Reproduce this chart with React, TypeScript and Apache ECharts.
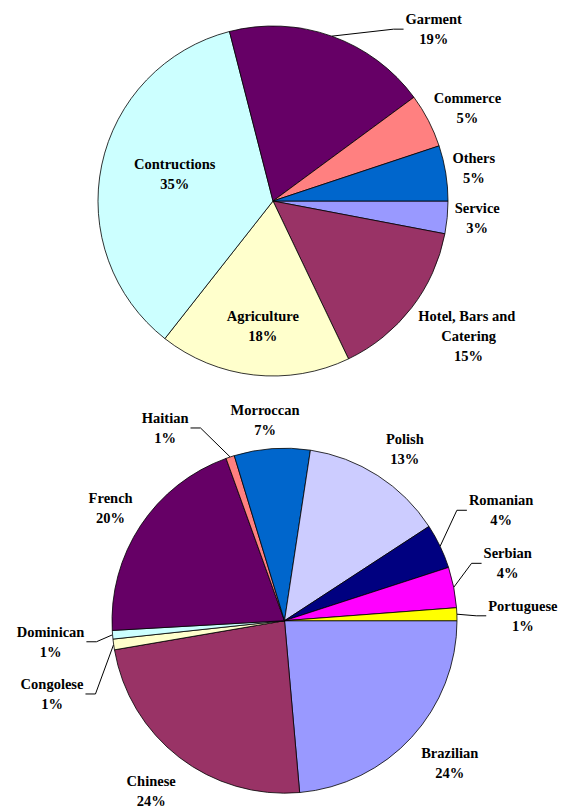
import React, { useEffect, useRef } from 'react';
import * as echarts from 'echarts';

// ---- Data: employment sectors (top pie) ----
const jobCategories = ['Service', 'Hotel, Bars and Catering', 'Agriculture', 'Contructions', 'Garment', 'Commerce', 'Others'];
const jobValues = [3.0, 14.9, 17.7, 35.4, 18.9, 5.0, 5.1];
const jobColors = ['#9999FF', '#993366', '#FFFFCC', '#CCFFFF', '#660066', '#FF8080', '#0066CC'];

// ---- Data: nationalities (bottom pie) ----
const originCategories = ['Brazilian', 'Chinese', 'Congolese', 'Dominican', 'French', 'Haitian', 'Morroccan', 'Polish', 'Romanian', 'Serbian', 'Portuguese'];
const originValues = [23.6, 23.7, 1.0, 0.8, 20.4, 0.8, 7.1, 13.4, 4.2, 3.8, 1.2];
const originColors = ['#9999FF', '#993366', '#FFFFCC', '#CCFFFF', '#660066', '#FF8080', '#0066CC', '#CCCCFF', '#000080', '#FF00FF', '#FFFF00'];

// ---- Label placement (style): offset of label centre from the arc point at the slice mid-angle ----
const jobLabelOffsets = [[30, 1], [57, 28], [9, -49], [73, 9], [102, -7], [39, -13], [28, -5]];
const jobLeader = [false, false, false, false, true, false, false];
const originLabelOffsets = [[38, 26], [-28, 33.5], [-61.6, 49.5], [-62, 7], [-30, -17.3], [-65, -29], [-7, -28.6], [27, -27], [61, -36], [54, -24], [66, 1.6]];
const originLeader = [false, false, true, true, false, true, false, false, true, true, true];

const TOP = { cx: 273, cy: 201, r: 175 };
const BOTTOM = { cx: 284.5, cy: 620.7, r: 172.5 };

function makeLayout(values: number[], geo: { cx: number; cy: number; r: number }, offsets: number[][], leader: boolean[]) {
  const total = values.reduce((a, b) => a + b, 0);
  const mids: number[] = [];
  let acc = 0;
  values.forEach((v) => {
    mids.push(((acc + v / 2) / total) * Math.PI * 2);
    acc += v;
  });
  return (params: any) => {
    const i = params.dataIndex;
    const a = mids[i];
    const ax = geo.cx + geo.r * Math.cos(a);
    const ay = geo.cy + geo.r * Math.sin(a);
    const x = ax + offsets[i][0];
    const y = ay + offsets[i][1];
    const res: any = { x, y, align: 'center', verticalAlign: 'middle' };
    if (leader[i]) {
      const hw = params.labelRect.width / 2;
      const side = x > geo.cx ? -1 : 1;
      const ex = x + side * (hw + 2);
      res.labelLinePoints = [[ax, ay], [ex + side * 10, y], [ex, y]];
    }
    return res;
  };
}

const labelText = {
  color: '#000',
  fontFamily: 'Liberation Serif',
  fontWeight: 'bold' as const,
  fontSize: 14.5,
  lineHeight: 20,
};

function buildSeries(
  names: string[],
  values: number[],
  colors: string[],
  geo: { cx: number; cy: number; r: number },
  offsets: number[][],
  leader: boolean[],
  wrapIndex: number
) {
  return {
    type: 'pie',
    center: [geo.cx, geo.cy],
    radius: geo.r,
    startAngle: 0,
    clockwise: true,
    avoidLabelOverlap: false,
    silent: true,
    percentPrecision: 2,
    itemStyle: { borderColor: '#000', borderWidth: 0.8 },
    label: {
      show: true,
      position: 'outside',
      distanceToLabelLine: 0,
      bleedMargin: 0,
      ...labelText,
      formatter: (p: any) => `${p.name}\n${Math.round(p.percent)}%`,
    },
    labelLine: { show: false, length: 0, length2: 0, lineStyle: { color: '#000', width: 1 } },
    labelLayout: makeLayout(values, geo, offsets, leader),
    data: names.map((n, i) => {
      const item: any = { name: n, value: values[i], itemStyle: { color: colors[i] } };
      if (leader[i]) item.labelLine = { show: true, length: 0, length2: 0, lineStyle: { color: '#000', width: 1 } };
      if (i === wrapIndex) item.label = { width: 120, overflow: 'break', align: 'center' };
      return item;
    }),
  };
}

export default function App() {
  const ref = useRef<HTMLDivElement>(null);
  useEffect(() => {
    if (!ref.current) return;
    const chart = echarts.init(ref.current, undefined, { renderer: 'svg' });
    chart.setOption({
      animation: false,
      backgroundColor: '#fff',
      series: [
        buildSeries(jobCategories, jobValues, jobColors, TOP, jobLabelOffsets, jobLeader, 1),
        buildSeries(originCategories, originValues, originColors, BOTTOM, originLabelOffsets, originLeader, -1),
      ],
    });
    return () => chart.dispose();
  }, []);
  return <div ref={ref} style={{ position: 'fixed', left: 0, top: 0, width: 562, height: 808 }} />;
}
